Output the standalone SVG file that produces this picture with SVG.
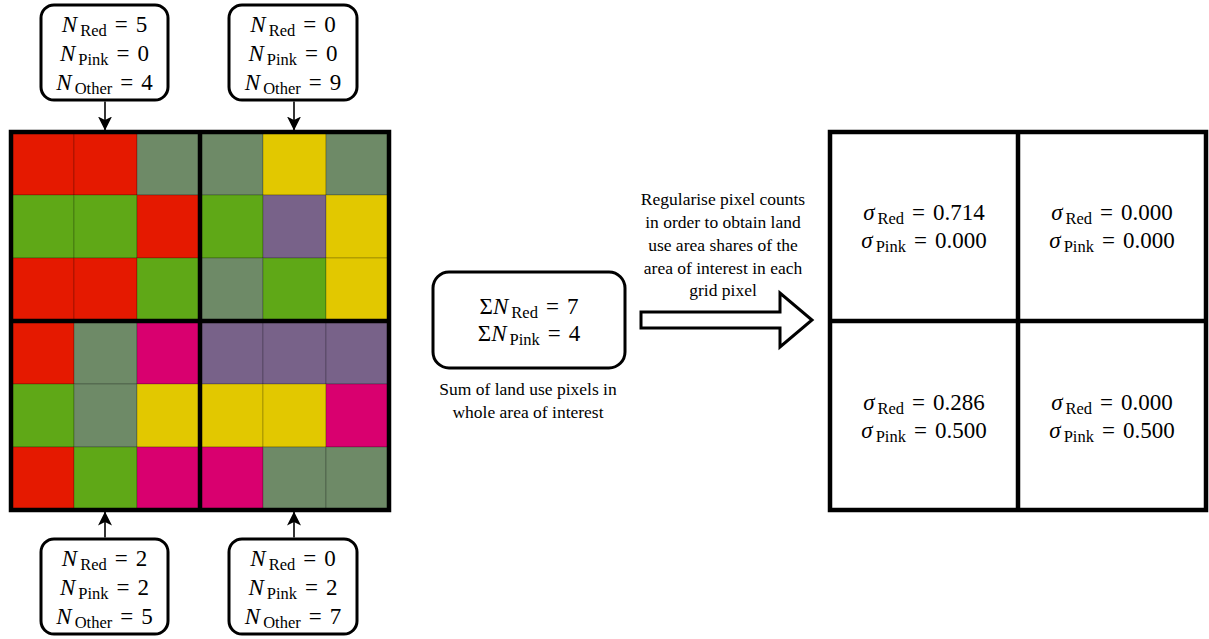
<svg xmlns="http://www.w3.org/2000/svg" width="1209" height="639" viewBox="0 0 1209 639">
<style>
text{font-family:"Liberation Serif","DejaVu Serif",serif;fill:#000}
.m{font-size:23px;text-anchor:middle}
.i{font-style:italic}
.s{font-size:16.5px}
.cap{font-size:17.5px;text-anchor:middle}
.box{fill:#fff;stroke:#000;stroke-width:3}
.cell{stroke:rgba(0,0,0,0.22);stroke-width:1}
.R{fill:#e51900}.G{fill:#6e8a67}.L{fill:#5fa817}.Y{fill:#e2c800}.P{fill:#786289}.K{fill:#d9006f}
.thick{fill:none;stroke:#000;stroke-width:4.5}
.con{stroke:#000;stroke-width:1.6;fill:none}
</style>
<defs>
<marker id="ah" viewBox="0 0 14 14" refX="13.5" refY="7" markerWidth="8.75" markerHeight="8.75" markerUnits="strokeWidth" orient="auto">
<path d="M0,0 L14,7 L0,14 L3.5,7 Z" fill="#000"/>
</marker>
</defs>
<g id="landgrid">
<rect class="cell R" x="11" y="132" width="63" height="63"/><rect class="cell R" x="74" y="132" width="63" height="63"/><rect class="cell G" x="137" y="132" width="63" height="63"/><rect class="cell G" x="200" y="132" width="63" height="63"/><rect class="cell Y" x="263" y="132" width="63" height="63"/><rect class="cell G" x="326" y="132" width="63" height="63"/>
<rect class="cell L" x="11" y="195" width="63" height="63"/><rect class="cell L" x="74" y="195" width="63" height="63"/><rect class="cell R" x="137" y="195" width="63" height="63"/><rect class="cell L" x="200" y="195" width="63" height="63"/><rect class="cell P" x="263" y="195" width="63" height="63"/><rect class="cell Y" x="326" y="195" width="63" height="63"/>
<rect class="cell R" x="11" y="258" width="63" height="63"/><rect class="cell R" x="74" y="258" width="63" height="63"/><rect class="cell L" x="137" y="258" width="63" height="63"/><rect class="cell G" x="200" y="258" width="63" height="63"/><rect class="cell L" x="263" y="258" width="63" height="63"/><rect class="cell Y" x="326" y="258" width="63" height="63"/>
<rect class="cell R" x="11" y="321" width="63" height="63"/><rect class="cell G" x="74" y="321" width="63" height="63"/><rect class="cell K" x="137" y="321" width="63" height="63"/><rect class="cell P" x="200" y="321" width="63" height="63"/><rect class="cell P" x="263" y="321" width="63" height="63"/><rect class="cell P" x="326" y="321" width="63" height="63"/>
<rect class="cell L" x="11" y="384" width="63" height="63"/><rect class="cell G" x="74" y="384" width="63" height="63"/><rect class="cell Y" x="137" y="384" width="63" height="63"/><rect class="cell Y" x="200" y="384" width="63" height="63"/><rect class="cell Y" x="263" y="384" width="63" height="63"/><rect class="cell K" x="326" y="384" width="63" height="63"/>
<rect class="cell R" x="11" y="447" width="63" height="63"/><rect class="cell L" x="74" y="447" width="63" height="63"/><rect class="cell K" x="137" y="447" width="63" height="63"/><rect class="cell K" x="200" y="447" width="63" height="63"/><rect class="cell G" x="263" y="447" width="63" height="63"/><rect class="cell G" x="326" y="447" width="63" height="63"/>
<rect class="thick" x="11" y="132" width="378" height="378"/>
<line class="thick" x1="200" y1="132" x2="200" y2="510"/>
<line class="thick" x1="11" y1="321" x2="389" y2="321"/>
</g>
<g id="count-tl">
<rect class="box" x="41" y="5" width="127" height="95" rx="13"/>
<text class="m" x="104.5" y="32"><tspan class="i">N</tspan><tspan class="s" dx="3" dy="4">Red</tspan><tspan dx="8" dy="-4">=</tspan><tspan dx="8">5</tspan></text>
<text class="m" x="104.5" y="61"><tspan class="i">N</tspan><tspan class="s" dx="3" dy="4">Pink</tspan><tspan dx="8" dy="-4">=</tspan><tspan dx="8">0</tspan></text>
<text class="m" x="104.5" y="90"><tspan class="i">N</tspan><tspan class="s" dx="3" dy="4">Other</tspan><tspan dx="8" dy="-4">=</tspan><tspan dx="8">4</tspan></text>
</g>
<g id="count-tr">
<rect class="box" x="229" y="5" width="128" height="95" rx="13"/>
<text class="m" x="293" y="32"><tspan class="i">N</tspan><tspan class="s" dx="3" dy="4">Red</tspan><tspan dx="8" dy="-4">=</tspan><tspan dx="8">0</tspan></text>
<text class="m" x="293" y="61"><tspan class="i">N</tspan><tspan class="s" dx="3" dy="4">Pink</tspan><tspan dx="8" dy="-4">=</tspan><tspan dx="8">0</tspan></text>
<text class="m" x="293" y="90"><tspan class="i">N</tspan><tspan class="s" dx="3" dy="4">Other</tspan><tspan dx="8" dy="-4">=</tspan><tspan dx="8">9</tspan></text>
</g>
<g id="count-bl">
<rect class="box" x="41" y="539" width="127" height="95" rx="13"/>
<text class="m" x="104.5" y="566"><tspan class="i">N</tspan><tspan class="s" dx="3" dy="4">Red</tspan><tspan dx="8" dy="-4">=</tspan><tspan dx="8">2</tspan></text>
<text class="m" x="104.5" y="595"><tspan class="i">N</tspan><tspan class="s" dx="3" dy="4">Pink</tspan><tspan dx="8" dy="-4">=</tspan><tspan dx="8">2</tspan></text>
<text class="m" x="104.5" y="624"><tspan class="i">N</tspan><tspan class="s" dx="3" dy="4">Other</tspan><tspan dx="8" dy="-4">=</tspan><tspan dx="8">5</tspan></text>
</g>
<g id="count-br">
<rect class="box" x="229" y="539" width="128" height="95" rx="13"/>
<text class="m" x="293" y="566"><tspan class="i">N</tspan><tspan class="s" dx="3" dy="4">Red</tspan><tspan dx="8" dy="-4">=</tspan><tspan dx="8">0</tspan></text>
<text class="m" x="293" y="595"><tspan class="i">N</tspan><tspan class="s" dx="3" dy="4">Pink</tspan><tspan dx="8" dy="-4">=</tspan><tspan dx="8">2</tspan></text>
<text class="m" x="293" y="624"><tspan class="i">N</tspan><tspan class="s" dx="3" dy="4">Other</tspan><tspan dx="8" dy="-4">=</tspan><tspan dx="8">7</tspan></text>
</g>
<g id="sum">
<rect class="box" x="433" y="272" width="192" height="96" rx="16"/>
<text class="m" x="529" y="314">Σ<tspan class="i">N</tspan><tspan class="s" dx="3" dy="4">Red</tspan><tspan dx="8" dy="-4">=</tspan><tspan dx="8">7</tspan></text>
<text class="m" x="529" y="341">Σ<tspan class="i">N</tspan><tspan class="s" dx="3" dy="4">Pink</tspan><tspan dx="8" dy="-4">=</tspan><tspan dx="8">4</tspan></text>
<text class="cap" x="528" y="395">Sum of land use pixels in</text>
<text class="cap" x="528" y="418">whole area of interest</text>
</g>
<g id="regularise">
<path d="M641,312 H780 V293 L812,320 L780,347 V328 H641 Z" fill="#fff" stroke="#000" stroke-width="3" stroke-linejoin="miter"/>
<text class="cap" x="723" y="205">Regularise pixel counts</text>
<text class="cap" x="723" y="228">in order to obtain land</text>
<text class="cap" x="723" y="251">use area shares of the</text>
<text class="cap" x="723" y="274">area of interest in each</text>
<text class="cap" x="723" y="296">grid pixel</text>
</g>
<g id="sharegrid">
<rect x="830" y="132" width="376" height="378" fill="#fff" stroke="#000" stroke-width="4.5"/>
<line class="thick" x1="1018" y1="132" x2="1018" y2="510"/>
<line class="thick" x1="830" y1="321" x2="1206" y2="321"/>
<text class="m" x="924" y="220"><tspan class="i">σ</tspan><tspan class="s" dx="3" dy="4">Red</tspan><tspan dx="8" dy="-4">=</tspan><tspan dx="8">0.714</tspan></text>
<text class="m" x="924" y="248"><tspan class="i">σ</tspan><tspan class="s" dx="3" dy="4">Pink</tspan><tspan dx="8" dy="-4">=</tspan><tspan dx="8">0.000</tspan></text>
<text class="m" x="1112" y="220"><tspan class="i">σ</tspan><tspan class="s" dx="3" dy="4">Red</tspan><tspan dx="8" dy="-4">=</tspan><tspan dx="8">0.000</tspan></text>
<text class="m" x="1112" y="248"><tspan class="i">σ</tspan><tspan class="s" dx="3" dy="4">Pink</tspan><tspan dx="8" dy="-4">=</tspan><tspan dx="8">0.000</tspan></text>
<text class="m" x="924" y="410"><tspan class="i">σ</tspan><tspan class="s" dx="3" dy="4">Red</tspan><tspan dx="8" dy="-4">=</tspan><tspan dx="8">0.286</tspan></text>
<text class="m" x="924" y="438"><tspan class="i">σ</tspan><tspan class="s" dx="3" dy="4">Pink</tspan><tspan dx="8" dy="-4">=</tspan><tspan dx="8">0.500</tspan></text>
<text class="m" x="1112" y="410"><tspan class="i">σ</tspan><tspan class="s" dx="3" dy="4">Red</tspan><tspan dx="8" dy="-4">=</tspan><tspan dx="8">0.000</tspan></text>
<text class="m" x="1112" y="438"><tspan class="i">σ</tspan><tspan class="s" dx="3" dy="4">Pink</tspan><tspan dx="8" dy="-4">=</tspan><tspan dx="8">0.500</tspan></text>
</g>
<g id="connectors">
<line class="con" x1="105" y1="101.5" x2="105" y2="130" marker-end="url(#ah)"/>
<line class="con" x1="294" y1="101.5" x2="294" y2="130" marker-end="url(#ah)"/>
<line class="con" x1="105" y1="537.5" x2="105" y2="512" marker-end="url(#ah)"/>
<line class="con" x1="294" y1="537.5" x2="294" y2="512" marker-end="url(#ah)"/>
</g>
</svg>
